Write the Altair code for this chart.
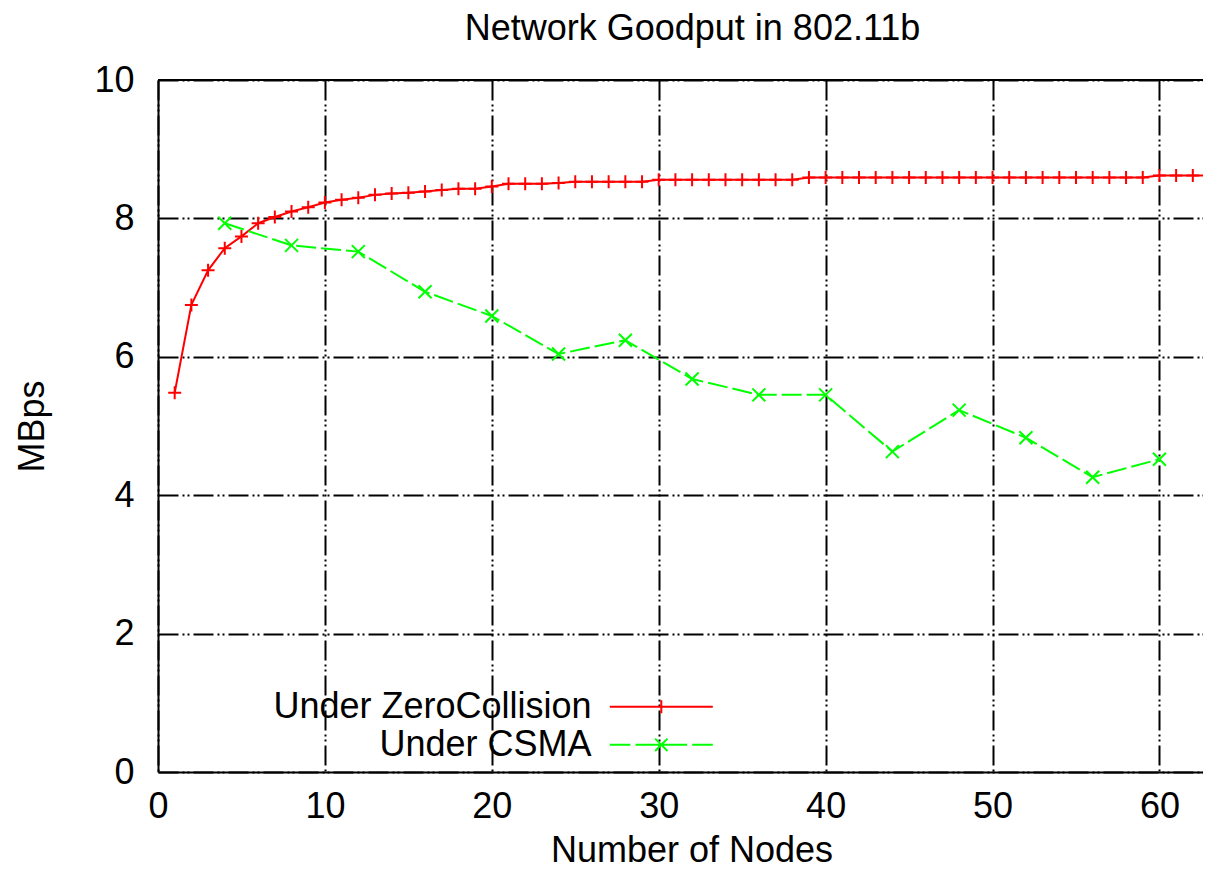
import altair as alt
import pandas as pd

ZC = "Under ZeroCollision"
CS = "Under CSMA"

zc_x = [1, 2, 3, 4, 5, 6, 7, 8, 9, 10,
        11, 12, 13, 14, 15, 16, 17, 18, 19, 20,
        21, 22, 23, 24, 25, 26, 27, 28, 29, 30,
        31, 32, 33, 34, 35, 36, 37, 38, 39, 40,
        41, 42, 43, 44, 45, 46, 47, 48, 49, 50,
        51, 52, 53, 54, 55, 56, 57, 58, 59, 60,
        61, 62, 63, 64]
zc_y = [5.48, 6.75, 7.25, 7.57, 7.74, 7.93, 8.02, 8.10, 8.16, 8.23,
        8.27, 8.30, 8.34, 8.36, 8.37, 8.39, 8.41, 8.43, 8.43, 8.46,
        8.50, 8.50, 8.50, 8.51, 8.53, 8.53, 8.53, 8.53, 8.53, 8.56,
        8.56, 8.56, 8.56, 8.56, 8.56, 8.56, 8.56, 8.56, 8.59, 8.59,
        8.59, 8.59, 8.59, 8.59, 8.59, 8.59, 8.59, 8.59, 8.59, 8.59,
        8.59, 8.59, 8.59, 8.59, 8.59, 8.59, 8.59, 8.59, 8.59, 8.62,
        8.62, 8.62, 8.62, 8.62]

cs_x = [4, 8, 12, 16, 20, 24, 28, 32, 36, 40, 44, 48, 52, 56, 60]
cs_y = [7.93, 7.61, 7.52, 6.94, 6.59, 6.04, 6.24, 5.68, 5.45, 5.45,
        4.63, 5.23, 4.83, 4.26, 4.52]

x_ticks = [0, 10, 20, 30, 40, 50, 60]
y_ticks = [0, 2, 4, 6, 8, 10]

df_zc = pd.DataFrame({"x": zc_x, "y": zc_y, "series": ZC})
df_cs = pd.DataFrame({"x": cs_x, "y": cs_y, "series": CS})
df_all = pd.concat([df_zc, df_cs], ignore_index=True)

FONT = "Liberation Sans"
FS = 36
RED = "#ff0000"
GREEN = "#00ff00"
GRID_DASH = [20, 4, 2, 3, 2, 4]

PLUS = "M-1,0H1M0,-1V1"
CROSS = "M-1,-1L1,1M-1,1L1,-1"
# legend samples: a long line with the series marker in its middle
LEG_ZC = "M-2.754,0H2.754M0,-0.348V0.348"
LEG_CS = ("M-2.754,0H-1.652M-1.377,0H1.377M1.652,0H2.754"
          "M-0.33,-0.33L0.33,0.33M-0.33,0.33L0.33,-0.33")

W = 1045
H = 692

xscale = alt.Scale(domain=[0, 62.61], nice=False, zero=False)
yscale = alt.Scale(domain=[0, 10], nice=False)

x_axis = alt.Axis(
    values=x_ticks, format="d", title="Number of Nodes", grid=True,
    gridColor="#000", gridWidth=2, gridDash=GRID_DASH, domainColor="#000",
    domainWidth=2, ticks=False, tickSize=0, labelPadding=17, labelFont=FONT,
    labelFontSize=FS, labelColor="#000", titleFont=FONT, titleFontSize=FS,
    titleFontWeight="normal", titleColor="#000", titleX=533.5, titleY=89,
    titleBaseline="alphabetic", titleAlign="center", labelFlush=False,
)
y_axis = alt.Axis(
    values=y_ticks, format="d", title="MBps", grid=True, gridColor="#000",
    gridWidth=2, gridDash=GRID_DASH, domainColor="#000", domainWidth=2,
    ticks=False, tickSize=0, labelPadding=24, labelFont=FONT,
    labelFontSize=FS, labelColor="#000", titleFont=FONT, titleFontSize=FS,
    titleFontWeight="normal", titleColor="#000", titleAngle=270,
    titleX=-115, titleY=346, titleBaseline="alphabetic", titleAlign="center",
)

X = alt.X("x:Q", scale=xscale, axis=x_axis)
Y = alt.Y("y:Q", scale=yscale, axis=y_axis)

# top frame line at the top of the y range
top_border = alt.Chart(df_zc).mark_rule(color="#000", strokeWidth=2).encode(
    y=alt.datum(y_ticks[-1], scale=yscale)
)

line_zc = alt.Chart(df_zc).mark_line(color=RED, strokeWidth=2, clip=True).encode(x=X, y=Y)
pts_zc = alt.Chart(df_zc).mark_point(
    shape=PLUS, size=169, filled=False, color=RED, strokeWidth=2, opacity=1, clip=True
).encode(x=X, y=Y)
line_cs = alt.Chart(df_cs).mark_line(
    color=GREEN, strokeWidth=2, strokeDash=[20, 5], clip=True
).encode(x=X, y=Y)
pts_cs = alt.Chart(df_cs).mark_point(
    shape=CROSS, size=169, filled=False, color=GREEN, strokeWidth=2, opacity=1, clip=True
).encode(x=X, y=Y)

legend = alt.Legend(
    title=None, orient="none", legendX=483.3, legendY=606.8, direction="vertical",
    labelFont=FONT, labelFontSize=FS, labelColor="#000", labelAlign="right",
    labelBaseline="middle", labelOffset={"expr": "-89.7"}, labelLimit=0,
    symbolSize=1399, symbolStrokeWidth=2, symbolOpacity=1,
    rowPadding=0, padding=0, offset=0,
)

legend_layer = alt.Chart(df_all).transform_filter(
    alt.datum.y < -100
).mark_point(filled=False, strokeWidth=2).encode(
    x=X,
    y=Y,
    color=alt.Color("series:N", scale=alt.Scale(domain=[ZC, CS], range=[RED, GREEN]), legend=legend),
    shape=alt.Shape("series:N", scale=alt.Scale(domain=[ZC, CS], range=[LEG_ZC, LEG_CS]), legend=legend),
)

chart = alt.layer(line_zc, pts_zc, line_cs, pts_cs, legend_layer, top_border).properties(
    width=W,
    height=H,
    title=alt.TitleParams(
        "Network Goodput in 802.11b", font=FONT, fontSize=FS, fontWeight="normal",
        color="#000", anchor="middle", offset=14, dx=12,
    ),
    padding={"left": 150, "top": 72, "right": 0, "bottom": 97},
    autosize=alt.AutoSizeParams(type="none"),
    background="white",
).configure_view(stroke=None)

chart.save("out.html", embed_options={"renderer": "svg", "actions": False})
